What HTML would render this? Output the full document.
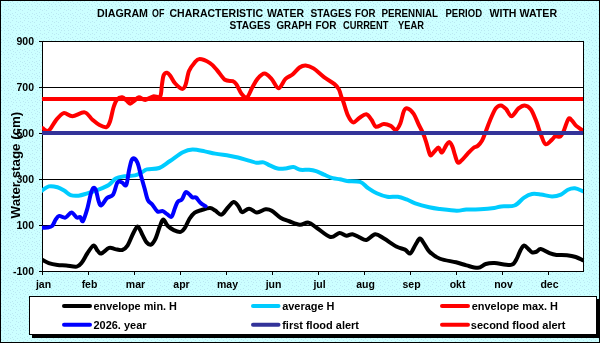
<!DOCTYPE html>
<html><head><meta charset="utf-8"><style>
html,body{margin:0;padding:0;width:600px;height:343px;overflow:hidden;background:#ccffff;}
svg{display:block;font-family:"Liberation Sans", sans-serif;will-change:transform;}
</style></head><body>
<svg width="600" height="343" viewBox="0 0 600 343" font-family='"Liberation Sans", sans-serif'>
<defs>
<pattern id="dots" x="0" y="0" width="12" height="12" patternUnits="userSpaceOnUse"><rect width="12" height="12" fill="#ccffff"/><rect x="0" y="1" width="1" height="1" fill="#bae8f2"/><rect x="0" y="8" width="1" height="1" fill="#bae8f2"/><rect x="1" y="3" width="1" height="1" fill="#bae8f2"/><rect x="1" y="6" width="1" height="1" fill="#bae8f2"/><rect x="3" y="0" width="1" height="1" fill="#bae8f2"/><rect x="3" y="4" width="1" height="1" fill="#bae8f2"/><rect x="4" y="6" width="1" height="1" fill="#bae8f2"/><rect x="4" y="9" width="1" height="1" fill="#bae8f2"/><rect x="5" y="2" width="1" height="1" fill="#bae8f2"/><rect x="6" y="10" width="1" height="1" fill="#bae8f2"/><rect x="7" y="4" width="1" height="1" fill="#bae8f2"/><rect x="8" y="1" width="1" height="1" fill="#bae8f2"/><rect x="8" y="6" width="1" height="1" fill="#bae8f2"/><rect x="8" y="9" width="1" height="1" fill="#bae8f2"/><rect x="10" y="2" width="1" height="1" fill="#bae8f2"/><rect x="10" y="10" width="1" height="1" fill="#bae8f2"/><rect x="11" y="5" width="1" height="1" fill="#bae8f2"/></pattern>
<clipPath id="pc"><rect x="42" y="41" width="541" height="231"/></clipPath>
</defs>
<rect x="0" y="0" width="600" height="343" fill="url(#dots)"/>
<rect x="0.5" y="0.5" width="599" height="342" fill="none" stroke="#000" stroke-width="1"/>
<rect x="42" y="41" width="542" height="231" fill="#fff"/>
<rect x="42" y="87" width="542" height="1" fill="#000"/>
<rect x="42" y="133" width="542" height="1" fill="#000"/>
<rect x="42" y="179" width="542" height="1" fill="#000"/>
<rect x="42" y="225" width="542" height="1" fill="#000"/>
<rect x="42.5" y="41.5" width="541" height="230" fill="none" stroke="#000" stroke-width="1"/>
<rect x="39" y="41" width="3" height="1" fill="#000"/>
<rect x="39" y="87" width="3" height="1" fill="#000"/>
<rect x="39" y="133" width="3" height="1" fill="#000"/>
<rect x="39" y="179" width="3" height="1" fill="#000"/>
<rect x="39" y="225" width="3" height="1" fill="#000"/>
<rect x="39" y="271" width="3" height="1" fill="#000"/>
<rect x="42" y="271" width="1" height="4" fill="#000"/>
<rect x="88" y="271" width="1" height="4" fill="#000"/>
<rect x="134" y="271" width="1" height="4" fill="#000"/>
<rect x="180" y="271" width="1" height="4" fill="#000"/>
<rect x="226" y="271" width="1" height="4" fill="#000"/>
<rect x="272" y="271" width="1" height="4" fill="#000"/>
<rect x="318" y="271" width="1" height="4" fill="#000"/>
<rect x="364" y="271" width="1" height="4" fill="#000"/>
<rect x="410" y="271" width="1" height="4" fill="#000"/>
<rect x="456" y="271" width="1" height="4" fill="#000"/>
<rect x="502" y="271" width="1" height="4" fill="#000"/>
<rect x="548" y="271" width="1" height="4" fill="#000"/>
<g clip-path="url(#pc)">
<path d="M41.75 259.60 C42.92 260.18 46.12 262.22 48.75 263.10 C51.38 263.98 54.58 264.52 57.50 264.90 C60.42 265.28 63.04 265.12 66.25 265.40 C69.46 265.68 74.12 267.12 76.75 266.60 C79.38 266.08 80.25 264.43 82.00 262.25 C83.75 260.07 85.35 256.27 87.25 253.50 C89.15 250.72 91.65 246.03 93.40 245.60 C95.15 245.17 96.44 249.58 97.75 250.90 C99.06 252.22 99.36 254.00 101.25 253.50 C103.14 253.00 106.77 248.63 109.10 247.90 C111.43 247.17 113.06 248.75 115.25 249.10 C117.44 249.45 120.21 250.58 122.25 250.00 C124.29 249.42 125.62 248.47 127.50 245.60 C129.38 242.72 131.77 235.92 133.50 232.75 C135.23 229.58 136.44 226.31 137.90 226.60 C139.36 226.89 140.80 231.87 142.25 234.50 C143.70 237.13 145.14 240.71 146.60 242.40 C148.06 244.09 149.53 245.23 151.00 244.65 C152.47 244.07 153.94 241.91 155.40 238.90 C156.86 235.89 158.44 229.82 159.75 226.60 C161.06 223.38 161.94 219.74 163.25 219.60 C164.56 219.46 165.85 224.00 167.60 225.75 C169.35 227.50 171.56 229.07 173.75 230.10 C175.94 231.12 178.86 232.33 180.75 231.90 C182.64 231.47 183.64 229.69 185.10 227.50 C186.56 225.31 187.89 221.23 189.50 218.75 C191.11 216.27 192.71 214.06 194.75 212.60 C196.79 211.14 199.21 210.77 201.75 210.00 C204.29 209.23 207.75 207.90 210.00 208.00 C212.25 208.10 213.35 209.49 215.25 210.60 C217.15 211.71 219.36 215.08 221.40 214.65 C223.44 214.22 225.47 210.12 227.50 208.00 C229.53 205.88 231.77 202.17 233.60 201.90 C235.43 201.63 237.10 204.69 238.50 206.40 C239.90 208.11 240.25 211.78 242.00 212.15 C243.75 212.53 246.52 208.59 249.00 208.65 C251.48 208.71 254.13 212.38 256.90 212.50 C259.67 212.62 263.12 209.64 265.60 209.35 C268.08 209.06 269.27 209.35 271.75 210.75 C274.23 212.15 277.58 216.00 280.50 217.75 C283.42 219.50 286.04 220.08 289.25 221.25 C292.46 222.42 296.54 224.52 299.75 224.75 C302.96 224.98 305.58 222.07 308.50 222.65 C311.42 223.23 313.60 225.86 317.25 228.25 C320.90 230.64 326.71 236.21 330.40 237.00 C334.09 237.79 336.73 233.22 339.40 233.00 C342.07 232.78 344.22 235.44 346.40 235.65 C348.58 235.86 350.32 233.96 352.50 234.25 C354.68 234.54 357.17 236.44 359.50 237.40 C361.83 238.36 363.88 240.53 366.50 240.00 C369.12 239.47 372.33 234.48 375.25 234.25 C378.17 234.02 380.50 236.56 384.00 238.60 C387.50 240.64 392.75 244.66 396.25 246.50 C399.75 248.34 402.67 248.48 405.00 249.65 C407.33 250.82 408.50 254.32 410.25 253.50 C412.00 252.68 413.89 247.23 415.50 244.75 C417.11 242.27 418.44 238.74 419.90 238.60 C421.36 238.46 422.65 241.71 424.25 243.90 C425.85 246.09 426.88 249.28 429.50 251.75 C432.12 254.22 435.58 257.00 440.00 258.75 C444.42 260.50 451.58 261.14 456.00 262.25 C460.42 263.36 462.85 264.47 466.50 265.40 C470.15 266.33 474.69 268.08 477.90 267.85 C481.11 267.62 482.98 264.79 485.75 264.00 C488.52 263.21 490.29 262.95 494.50 263.10 C498.71 263.25 507.38 265.48 511.00 264.90 C514.62 264.32 514.65 262.08 516.25 259.60 C517.85 257.12 519.29 252.33 520.60 250.00 C521.91 247.67 522.78 245.75 524.10 245.60 C525.42 245.45 527.18 247.98 528.50 249.10 C529.82 250.22 530.68 251.86 532.00 252.30 C533.32 252.74 534.94 252.28 536.40 251.75 C537.86 251.22 538.57 248.87 540.75 249.10 C542.93 249.33 546.88 252.18 549.50 253.15 C552.12 254.12 553.58 254.55 556.50 254.90 C559.42 255.25 563.79 254.90 567.00 255.25 C570.21 255.60 573.12 256.18 575.75 257.00 C578.38 257.82 581.58 259.62 582.75 260.15" fill="none" stroke="#000000" stroke-width="4" stroke-linejoin="round" stroke-linecap="round"/>
<path d="M41.75 190.75 C42.92 190.03 46.12 186.98 48.75 186.40 C51.38 185.82 54.88 186.53 57.50 187.25 C60.12 187.97 62.32 189.44 64.50 190.75 C66.68 192.06 68.27 194.28 70.60 195.10 C72.93 195.92 75.72 195.93 78.50 195.65 C81.28 195.37 84.04 194.36 87.25 193.40 C90.46 192.44 94.17 191.30 97.75 189.90 C101.33 188.50 105.75 186.90 108.75 185.00 C111.75 183.10 113.12 179.96 115.75 178.50 C118.38 177.04 121.29 176.77 124.50 176.25 C127.71 175.73 132.12 176.04 135.00 175.40 C137.88 174.76 139.75 173.40 141.75 172.40 C143.75 171.40 144.08 170.13 147.00 169.40 C149.92 168.67 155.42 169.40 159.25 168.00 C163.08 166.60 166.06 163.62 170.00 161.00 C173.94 158.38 179.15 154.15 182.90 152.25 C186.65 150.35 188.86 149.74 192.50 149.60 C196.14 149.46 200.96 150.72 204.75 151.40 C208.54 152.08 211.17 152.93 215.25 153.65 C219.33 154.38 225.46 155.11 229.25 155.75 C233.04 156.39 234.75 156.68 238.00 157.50 C241.25 158.32 245.65 159.78 248.75 160.65 C251.85 161.53 254.13 162.46 256.60 162.75 C259.08 163.04 261.41 161.96 263.60 162.40 C265.79 162.84 267.42 164.38 269.75 165.40 C272.08 166.42 274.98 167.98 277.60 168.50 C280.23 169.02 282.87 168.73 285.50 168.50 C288.13 168.27 290.92 166.89 293.40 167.10 C295.88 167.31 297.78 169.31 300.40 169.75 C303.02 170.19 306.48 169.52 309.10 169.75 C311.72 169.98 313.62 170.33 316.10 171.15 C318.58 171.97 321.23 173.48 324.00 174.65 C326.77 175.82 330.08 177.38 332.75 178.15 C335.42 178.92 337.62 178.78 340.00 179.25 C342.38 179.72 343.65 180.56 347.00 181.00 C350.35 181.44 356.60 180.73 360.10 181.90 C363.60 183.07 365.23 186.11 368.00 188.00 C370.77 189.89 373.54 191.79 376.75 193.25 C379.96 194.71 383.75 196.17 387.25 196.75 C390.75 197.33 394.54 196.31 397.75 196.75 C400.96 197.19 403.58 198.29 406.50 199.40 C409.42 200.51 411.46 202.09 415.25 203.40 C419.04 204.71 425.12 206.32 429.25 207.25 C433.38 208.18 435.44 208.42 440.00 209.00 C444.56 209.58 452.23 210.67 456.60 210.75 C460.98 210.83 462.31 209.73 466.25 209.50 C470.19 209.27 475.58 209.58 480.25 209.35 C484.92 209.12 490.75 208.59 494.25 208.10 C497.75 207.61 497.88 206.83 501.25 206.40 C504.62 205.97 510.69 206.97 514.50 205.50 C518.31 204.03 521.18 199.52 524.10 197.60 C527.02 195.68 529.18 194.52 532.00 194.00 C534.82 193.48 537.67 194.08 541.00 194.50 C544.33 194.92 548.68 196.47 552.00 196.50 C555.32 196.53 558.25 195.78 560.90 194.65 C563.55 193.53 565.57 190.80 567.90 189.75 C570.23 188.70 572.42 188.12 574.90 188.35 C577.38 188.58 581.44 190.68 582.75 191.15" fill="none" stroke="#00ccff" stroke-width="4" stroke-linejoin="round" stroke-linecap="round"/>
<path d="M42.60 128.20 C43.62 128.60 46.56 131.87 48.75 130.60 C50.94 129.33 53.27 123.52 55.75 120.60 C58.23 117.68 60.83 113.82 63.60 113.10 C66.38 112.38 68.90 116.37 72.40 116.25 C75.90 116.13 81.25 111.82 84.60 112.40 C87.95 112.98 90.02 117.65 92.50 119.75 C94.98 121.85 97.17 123.78 99.50 125.00 C101.83 126.22 104.75 127.68 106.50 127.10 C108.25 126.52 108.83 124.77 110.00 121.50 C111.17 118.23 112.33 111.15 113.50 107.50 C114.67 103.85 115.54 101.29 117.00 99.60 C118.46 97.91 120.65 97.20 122.25 97.35 C123.85 97.50 125.29 99.45 126.60 100.50 C127.91 101.55 128.78 103.65 130.10 103.65 C131.42 103.65 133.03 101.55 134.50 100.50 C135.97 99.45 137.11 97.45 138.90 97.35 C140.69 97.25 142.88 100.06 145.25 99.90 C147.62 99.74 150.62 96.98 153.10 96.40 C155.57 95.82 158.63 98.30 160.10 96.40 C161.57 94.50 161.32 88.50 161.90 85.00 C162.48 81.50 162.73 77.44 163.60 75.40 C164.47 73.36 165.93 72.61 167.10 72.75 C168.27 72.89 169.28 74.50 170.60 76.25 C171.92 78.00 173.10 81.15 175.00 83.25 C176.90 85.35 180.25 88.56 182.00 88.85 C183.75 89.14 184.33 87.97 185.50 85.00 C186.67 82.03 187.54 74.65 189.00 71.00 C190.46 67.35 192.50 65.08 194.25 63.10 C196.00 61.12 196.88 59.10 199.50 59.10 C202.12 59.10 207.08 61.27 210.00 63.10 C212.92 64.93 214.52 67.32 217.00 70.10 C219.48 72.88 222.28 77.91 224.90 79.75 C227.53 81.59 230.86 80.43 232.75 81.15 C234.64 81.88 234.79 82.00 236.25 84.10 C237.71 86.20 239.71 91.56 241.50 93.75 C243.29 95.94 245.21 98.28 247.00 97.25 C248.79 96.22 250.50 90.66 252.25 87.60 C254.00 84.54 255.46 81.23 257.50 78.90 C259.54 76.57 262.17 73.60 264.50 73.60 C266.83 73.60 269.17 76.48 271.50 78.90 C273.83 81.33 276.17 88.15 278.50 88.15 C280.83 88.15 283.17 81.18 285.50 78.90 C287.83 76.62 290.17 76.40 292.50 74.50 C294.83 72.60 297.32 69.02 299.50 67.50 C301.68 65.98 303.27 65.25 305.60 65.40 C307.93 65.55 310.43 66.45 313.50 68.40 C316.57 70.35 320.50 74.48 324.00 77.10 C327.50 79.72 332.02 82.05 334.50 84.10 C336.98 86.15 337.73 87.21 338.90 89.40 C340.07 91.59 340.73 95.11 341.50 97.25 C342.27 99.39 342.43 99.22 343.50 102.25 C344.57 105.28 346.30 112.04 347.90 115.40 C349.50 118.76 351.21 121.97 353.10 122.40 C354.99 122.83 357.06 119.38 359.25 118.00 C361.44 116.62 364.21 113.86 366.25 114.15 C368.29 114.44 369.89 117.65 371.50 119.75 C373.11 121.85 373.86 126.03 375.90 126.75 C377.94 127.47 381.27 124.24 383.75 124.10 C386.23 123.96 388.71 124.93 390.75 125.90 C392.79 126.87 394.39 130.34 396.00 129.90 C397.61 129.46 399.08 126.40 400.40 123.25 C401.72 120.10 402.73 113.47 403.90 111.00 C405.07 108.53 405.80 107.97 407.40 108.40 C409.00 108.83 411.58 110.83 413.50 113.60 C415.42 116.37 417.33 121.78 418.90 125.00 C420.47 128.22 421.68 130.05 422.90 132.90 C424.12 135.75 425.22 139.04 426.20 142.10 C427.18 145.16 428.04 149.03 428.80 151.25 C429.56 153.47 429.77 155.45 430.75 155.45 C431.73 155.45 433.39 152.56 434.70 151.25 C436.01 149.94 437.40 147.38 438.60 147.60 C439.80 147.82 440.70 152.87 441.90 152.60 C443.10 152.33 444.60 147.75 445.80 146.00 C447.00 144.25 448.00 141.99 449.10 142.10 C450.20 142.21 451.42 144.47 452.40 146.65 C453.38 148.83 454.12 152.57 455.00 155.20 C455.88 157.82 456.67 161.42 457.65 162.40 C458.63 163.38 459.26 162.52 460.90 161.10 C462.54 159.68 465.42 156.08 467.50 153.90 C469.58 151.72 471.69 149.33 473.40 148.00 C475.11 146.67 476.30 147.13 477.75 145.90 C479.20 144.67 480.79 142.93 482.10 140.60 C483.41 138.27 484.28 135.25 485.60 131.90 C486.92 128.55 488.31 124.42 490.00 120.50 C491.69 116.58 493.92 110.92 495.75 108.40 C497.58 105.88 499.25 105.26 501.00 105.40 C502.75 105.54 504.50 107.44 506.25 109.25 C508.00 111.06 509.46 116.39 511.50 116.25 C513.54 116.11 516.32 110.21 518.50 108.40 C520.68 106.59 522.56 105.26 524.60 105.40 C526.64 105.54 528.85 106.72 530.75 109.25 C532.65 111.78 534.25 116.22 536.00 120.60 C537.75 124.97 539.65 131.56 541.25 135.50 C542.85 139.44 543.85 143.52 545.60 144.25 C547.35 144.98 550.14 141.21 551.75 139.90 C553.36 138.59 553.79 136.98 555.25 136.40 C556.71 135.82 559.04 137.43 560.50 136.40 C561.96 135.38 562.68 133.17 564.00 130.25 C565.32 127.33 567.08 120.51 568.40 118.90 C569.72 117.29 570.59 119.43 571.90 120.60 C573.21 121.77 574.50 124.29 576.25 125.90 C578.00 127.51 581.38 129.53 582.40 130.25" fill="none" stroke="#ff0000" stroke-width="4" stroke-linejoin="round" stroke-linecap="round"/>
<path d="M41.75 227.60 C42.62 227.60 45.25 227.89 47.00 227.60 C48.75 227.31 50.79 227.22 52.25 225.85 C53.71 224.48 54.58 221.06 55.75 219.40 C56.92 217.74 57.64 216.20 59.25 215.90 C60.86 215.60 63.36 218.18 65.40 217.60 C67.44 217.02 69.61 212.40 71.50 212.40 C73.39 212.40 75.29 216.82 76.75 217.60 C78.21 218.38 79.22 216.52 80.25 217.10 C81.28 217.68 81.73 222.47 82.90 221.10 C84.07 219.73 85.94 213.42 87.25 208.90 C88.56 204.38 89.72 197.50 90.75 194.00 C91.78 190.50 92.53 188.48 93.40 187.90 C94.28 187.32 95.13 188.32 96.00 190.50 C96.87 192.68 97.72 198.52 98.60 201.00 C99.47 203.48 99.85 205.88 101.25 205.40 C102.65 204.92 105.03 199.90 107.00 198.10 C108.97 196.30 111.35 197.22 113.10 194.60 C114.85 191.98 116.03 184.43 117.50 182.40 C118.97 180.37 120.44 181.97 121.90 182.40 C123.36 182.83 125.08 186.90 126.25 185.00 C127.42 183.10 128.03 175.08 128.90 171.00 C129.78 166.92 130.63 162.60 131.50 160.50 C132.37 158.40 133.08 157.97 134.10 158.40 C135.12 158.83 136.43 160.12 137.60 163.10 C138.77 166.07 139.93 172.02 141.10 176.25 C142.27 180.48 143.47 184.53 144.60 188.50 C145.73 192.47 146.62 197.43 147.90 200.10 C149.18 202.77 150.65 202.60 152.25 204.50 C153.85 206.40 155.75 210.39 157.50 211.50 C159.25 212.61 161.15 210.72 162.75 211.15 C164.35 211.58 165.64 213.17 167.10 214.10 C168.56 215.03 170.18 217.77 171.50 216.75 C172.82 215.73 173.98 210.47 175.00 208.00 C176.02 205.53 176.43 203.36 177.60 201.90 C178.77 200.44 180.68 200.86 182.00 199.25 C183.32 197.64 184.33 193.12 185.50 192.25 C186.67 191.38 187.83 193.12 189.00 194.00 C190.17 194.88 191.33 196.92 192.50 197.50 C193.67 198.08 194.68 196.62 196.00 197.50 C197.32 198.38 198.80 201.29 200.40 202.75 C202.00 204.21 204.73 205.67 205.60 206.25" fill="none" stroke="#0000ff" stroke-width="4" stroke-linejoin="round" stroke-linecap="round"/>
<rect x="42" y="97" width="541" height="4" fill="#ff0000"/>
<rect x="42" y="131" width="541" height="4" fill="#333399"/>
</g>
<text x="34" y="45.0" text-anchor="end" font-size="10.5" font-weight="bold">900</text>
<text x="34" y="91.0" text-anchor="end" font-size="10.5" font-weight="bold">700</text>
<text x="34" y="137.0" text-anchor="end" font-size="10.5" font-weight="bold">500</text>
<text x="34" y="183.0" text-anchor="end" font-size="10.5" font-weight="bold">300</text>
<text x="34" y="229.0" text-anchor="end" font-size="10.5" font-weight="bold">100</text>
<text x="34" y="275.0" text-anchor="end" font-size="10.5" font-weight="bold">-100</text>
<text x="43.5" y="288.4" text-anchor="middle" font-size="10.5" font-weight="bold">jan</text>
<text x="89.5" y="288.4" text-anchor="middle" font-size="10.5" font-weight="bold">feb</text>
<text x="135.5" y="288.4" text-anchor="middle" font-size="10.5" font-weight="bold">mar</text>
<text x="181.5" y="288.4" text-anchor="middle" font-size="10.5" font-weight="bold">apr</text>
<text x="227.5" y="288.4" text-anchor="middle" font-size="10.5" font-weight="bold">may</text>
<text x="273.5" y="288.4" text-anchor="middle" font-size="10.5" font-weight="bold">jun</text>
<text x="319.5" y="288.4" text-anchor="middle" font-size="10.5" font-weight="bold">jul</text>
<text x="365.5" y="288.4" text-anchor="middle" font-size="10.5" font-weight="bold">aug</text>
<text x="411.5" y="288.4" text-anchor="middle" font-size="10.5" font-weight="bold">sep</text>
<text x="457.5" y="288.4" text-anchor="middle" font-size="10.5" font-weight="bold">okt</text>
<text x="503.5" y="288.4" text-anchor="middle" font-size="10.5" font-weight="bold">nov</text>
<text x="549.5" y="288.4" text-anchor="middle" font-size="10.5" font-weight="bold">dec</text>
<text x="97.00" y="17.00" font-size="10.5" font-weight="bold" textLength="51.00" lengthAdjust="spacingAndGlyphs">DIAGRAM</text>
<text x="152.00" y="17.00" font-size="10.5" font-weight="bold" textLength="12.33" lengthAdjust="spacingAndGlyphs">OF</text>
<text x="169.50" y="17.00" font-size="10.5" font-weight="bold" textLength="93.56" lengthAdjust="spacingAndGlyphs">CHARACTERISTIC</text>
<text x="267.00" y="17.00" font-size="10.5" font-weight="bold" textLength="37.00" lengthAdjust="spacingAndGlyphs">WATER</text>
<text x="310.50" y="17.00" font-size="10.5" font-weight="bold" textLength="41.00" lengthAdjust="spacingAndGlyphs">STAGES</text>
<text x="355.00" y="17.00" font-size="10.5" font-weight="bold" textLength="20.44" lengthAdjust="spacingAndGlyphs">FOR</text>
<text x="381.50" y="17.00" font-size="10.5" font-weight="bold" textLength="56.50" lengthAdjust="spacingAndGlyphs">PERENNIAL</text>
<text x="445.50" y="17.00" font-size="10.5" font-weight="bold" textLength="36.56" lengthAdjust="spacingAndGlyphs">PERIOD</text>
<text x="489.50" y="17.00" font-size="10.5" font-weight="bold" textLength="27.00" lengthAdjust="spacingAndGlyphs">WITH</text>
<text x="519.50" y="17.00" font-size="10.5" font-weight="bold" textLength="37.56" lengthAdjust="spacingAndGlyphs">WATER</text>
<text x="229.50" y="28.70" font-size="10.5" font-weight="bold" textLength="41.00" lengthAdjust="spacingAndGlyphs">STAGES</text>
<text x="276.50" y="28.70" font-size="10.5" font-weight="bold" textLength="35.33" lengthAdjust="spacingAndGlyphs">GRAPH</text>
<text x="315.50" y="28.70" font-size="10.5" font-weight="bold" textLength="21.00" lengthAdjust="spacingAndGlyphs">FOR</text>
<text x="343.00" y="28.70" font-size="10.5" font-weight="bold" textLength="45.44" lengthAdjust="spacingAndGlyphs">CURRENT</text>
<text x="398.00" y="28.70" font-size="10.5" font-weight="bold" textLength="25.88" lengthAdjust="spacingAndGlyphs">YEAR</text>
<text x="0" y="0" transform="translate(20.3,165.1) rotate(-90)" text-anchor="middle" font-size="13.3" font-weight="bold">Water stage (cm)</text>
<rect x="32" y="299" width="568" height="39" fill="#000"/>
<rect x="29.5" y="296.5" width="567" height="38" fill="#fff" stroke="#000" stroke-width="1"/>
<line x1="64.0" y1="306.0" x2="90.0" y2="306.0" stroke="#000000" stroke-width="4" stroke-linecap="round"/>
<line x1="253.0" y1="306.0" x2="278.5" y2="306.0" stroke="#00ccff" stroke-width="4" stroke-linecap="round"/>
<line x1="442.0" y1="306.0" x2="468.0" y2="306.0" stroke="#ff0000" stroke-width="4" stroke-linecap="round"/>
<line x1="64.0" y1="324.8" x2="90.0" y2="324.8" stroke="#0000ff" stroke-width="4" stroke-linecap="round"/>
<line x1="253.0" y1="324.8" x2="278.5" y2="324.8" stroke="#333399" stroke-width="4" stroke-linecap="round"/>
<line x1="442.0" y1="324.8" x2="468.0" y2="324.8" stroke="#ff0000" stroke-width="4" stroke-linecap="round"/>
<text x="93.50" y="310.00" font-size="10.5" font-weight="bold" textLength="83.44" lengthAdjust="spacingAndGlyphs">envelope min. H</text>
<text x="93.50" y="328.60" font-size="10.5" font-weight="bold" textLength="53.00" lengthAdjust="spacingAndGlyphs">2026. year</text>
<text x="282.20" y="310.00" font-size="10.5" font-weight="bold" textLength="52.30" lengthAdjust="spacingAndGlyphs">average H</text>
<text x="282.20" y="328.60" font-size="10.5" font-weight="bold" textLength="76.80" lengthAdjust="spacingAndGlyphs">first flood alert</text>
<text x="471.80" y="310.00" font-size="10.5" font-weight="bold" textLength="86.22" lengthAdjust="spacingAndGlyphs">envelope max. H</text>
<text x="470.80" y="328.60" font-size="10.5" font-weight="bold" textLength="94.70" lengthAdjust="spacingAndGlyphs">second flood alert</text>
</svg>
</body></html>
